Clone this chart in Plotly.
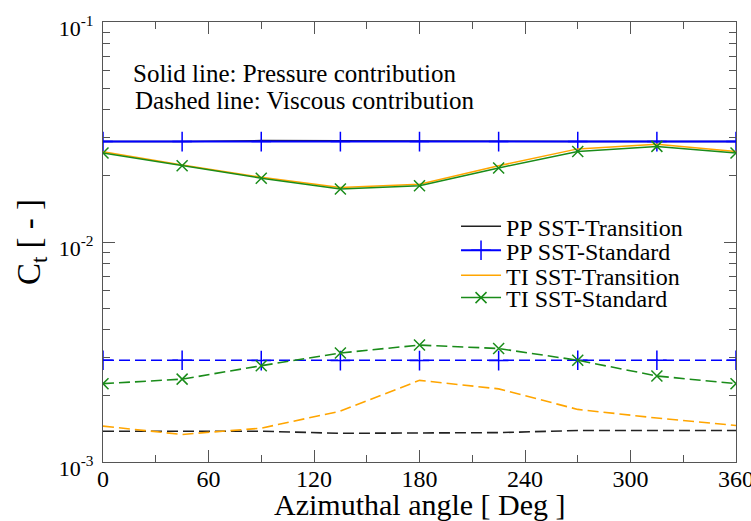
import plotly.graph_objects as go

angles = [0, 45, 90, 135, 180, 225, 270, 315, 360]

# Pressure contribution (solid lines)
pp_transition_pressure = [0.0286, 0.0286, 0.0289, 0.0289, 0.0289, 0.0287, 0.0286, 0.0286, 0.0286]
pp_standard_pressure = [0.0286, 0.0286, 0.0286, 0.0286, 0.0286, 0.0286, 0.0286, 0.0286, 0.0286]
ti_transition_pressure = [0.0257, 0.0224, 0.0197, 0.0177, 0.0183, 0.0222, 0.0265, 0.0278, 0.0258]
ti_standard_pressure = [0.0254, 0.0222, 0.0195, 0.0174, 0.0180, 0.0217, 0.0258, 0.0272, 0.0254]

# Viscous contribution (dashed lines)
pp_transition_viscous = [0.00138, 0.00138, 0.00138, 0.00135, 0.00135, 0.00136, 0.00139, 0.00139, 0.00139]
pp_standard_viscous = [0.00290, 0.00290, 0.00289, 0.00289, 0.00289, 0.00289, 0.00290, 0.00290, 0.00290]
ti_transition_viscous = [0.001456, 0.001334, 0.001425, 0.001703, 0.00235, 0.00215, 0.001734, 0.001584, 0.001466]
ti_standard_viscous = [0.00227, 0.00238, 0.00274, 0.00313, 0.00340, 0.00328, 0.00290, 0.00246, 0.00227]

names = ["PP SST-Transition", "PP SST-Standard", "TI SST-Transition", "TI SST-Standard"]
y_tick_vals = [0.001, 0.01, 0.1]
y_tick_text = ["10<sup>-3</sup>", "10<sup>-2</sup>", "10<sup>-1</sup>"]
y_minor_vals = [m * d for d in (0.001, 0.01) for m in range(2, 10)]
x_tick_vals = [0, 60, 120, 180, 240, 300, 360]
x_title = "Azimuthal angle [ Deg ]"
y_title = "C<sub>t</sub> [ - ]"

BLACK = "#222222"
BLUE = "#0000ff"
ORANGE = "#ffa500"
GREEN = "#1a8c1a"
DASH = "11px,5px"
FONT = "Liberation Serif"
FRAME = "#555555"

fig = go.Figure()

styles = [
    dict(color=BLACK, width=1.5, marker=None),
    dict(color=BLUE, width=2, marker=dict(symbol="cross-thin-open", size=14, line=dict(color=BLUE, width=1.5))),
    dict(color=ORANGE, width=1.5, marker=None),
    dict(color=GREEN, width=1.5, marker=dict(symbol="x-thin-open", size=11, line=dict(color=GREEN, width=1.5))),
]
viscous = [pp_transition_viscous, pp_standard_viscous, ti_transition_viscous, ti_standard_viscous]
pressure = [pp_transition_pressure, pp_standard_pressure, ti_transition_pressure, ti_standard_pressure]
legend_ids = ["legend", "legend2", "legend3", "legend4"]

for name, vals, st in zip(names, viscous, styles):
    kw = dict(mode="lines+markers", marker=st["marker"]) if st["marker"] else dict(mode="lines")
    fig.add_trace(go.Scatter(x=angles, y=vals, name=name, showlegend=False,
                             line=dict(color=st["color"], width=1.6, dash=DASH), **kw))

for name, vals, st, lg in zip(names, pressure, styles, legend_ids):
    kw = dict(mode="lines+markers", marker=st["marker"]) if st["marker"] else dict(mode="lines")
    fig.add_trace(go.Scatter(x=angles, y=vals, name=name, legend=lg,
                             line=dict(color=st["color"], width=st["width"]), **kw))

axis_common = dict(
    showline=True, linecolor=FRAME, linewidth=1.2, mirror="ticks",
    ticks="inside", ticklen=12, tickwidth=1, tickcolor=FRAME,
    showgrid=False, zeroline=False, ticklabeloverflow="allow",
)

fig.update_xaxes(
    range=[0, 360], tickvals=x_tick_vals,
    tickfont=dict(family=FONT, size=24, color="black"), ticklabelstandoff=-5,
    minor=dict(dtick=30, ticks="inside", ticklen=7, tickcolor=FRAME, showgrid=False),
    **axis_common,
)
fig.update_yaxes(
    type="log", range=[-3, -1], tickvals=y_tick_vals, ticktext=y_tick_text,
    tickfont=dict(family=FONT, size=22, color="black"), ticklabelshift=6, ticklabelstandoff=4,
    minor=dict(tickvals=y_minor_vals, ticks="inside", ticklen=7, tickcolor=FRAME, showgrid=False),
    title=dict(text=y_title, font=dict(family=FONT, size=33, color="black"), standoff=8),
    **axis_common,
)

# x-axis title placed as paper annotation below the tick labels
fig.add_annotation(x=0.5, y=-0.0965, xref="paper", yref="paper", xanchor="center", yanchor="middle",
                   text=x_title, showarrow=False,
                   font=dict(family=FONT, size=30, color="black"))

fig.add_annotation(x=0.045, y=0.884, xref="paper", yref="paper", xanchor="left", yanchor="middle",
                   text="Solid line: Pressure contribution", showarrow=False,
                   font=dict(family=FONT, size=25, color="black"))
fig.add_annotation(x=0.048, y=0.8216, xref="paper", yref="paper", xanchor="left", yanchor="middle",
                   text="Dashed line: Viscous contribution", showarrow=False,
                   font=dict(family=FONT, size=25, color="black"))

legend_y = [0.5348, 0.4802, 0.4234, 0.3727]
legend_style = dict(x=0.5577, xanchor="left", yanchor="middle", bgcolor="rgba(0,0,0,0)",
                    borderwidth=0, itemwidth=40, font=dict(family=FONT, size=24, color="black"))
fig.update_layout(
    width=751, height=521, autosize=False,
    margin=dict(l=103, r=15, t=22, b=59, autoexpand=False),
    paper_bgcolor="white", plot_bgcolor="white",
    font=dict(family=FONT, color="black"),
    legend=dict(y=legend_y[0], **legend_style),
    legend2=dict(y=legend_y[1], **legend_style),
    legend3=dict(y=legend_y[2], **legend_style),
    legend4=dict(y=legend_y[3], **legend_style),
)

fig.write_html(
    "out.html",
    config={"displayModeBar": False, "responsive": False},
    post_script="document.body.style.margin='0';document.body.style.overflow='hidden';",
)
